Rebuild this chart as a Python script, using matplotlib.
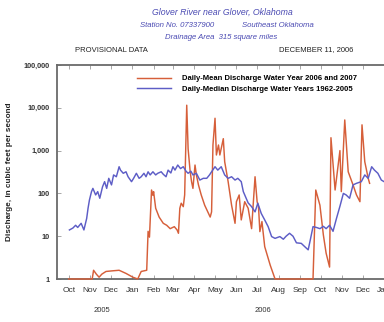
import numpy as np
import matplotlib
matplotlib.use('Agg')
import matplotlib.pyplot as plt

plt.rcParams['font.family'] = ['Liberation Sans', 'DejaVu Sans']

# daily-mean discharge, water years 2006-2007 (cfs)
mean_dates = ['2005-10-01', '2005-11-04', '2005-11-06', '2005-11-10', '2005-11-14', '2005-11-18',
              '2005-11-24', '2005-12-03', '2005-12-13', '2005-12-23', '2006-01-02', '2006-01-09',
              '2006-01-14', '2006-01-22', '2006-01-24', '2006-01-26', '2006-01-29', '2006-01-31',
              '2006-02-01', '2006-02-04', '2006-02-09', '2006-02-15', '2006-02-20', '2006-02-25',
              '2006-03-03', '2006-03-07', '2006-03-09', '2006-03-11', '2006-03-13', '2006-03-16',
              '2006-03-18', '2006-03-21', '2006-03-23', '2006-03-26', '2006-03-28', '2006-03-30',
              '2006-04-02', '2006-04-04', '2006-04-07', '2006-04-11', '2006-04-16', '2006-04-24',
              '2006-04-26', '2006-04-28', '2006-05-01', '2006-05-03', '2006-05-06', '2006-05-08',
              '2006-05-13', '2006-05-15', '2006-05-20', '2006-05-25', '2006-05-30', '2006-06-01',
              '2006-06-05', '2006-06-08', '2006-06-13', '2006-06-18', '2006-06-23', '2006-06-28',
              '2006-07-01', '2006-07-03', '2006-07-05', '2006-07-08', '2006-07-12', '2006-07-20',
              '2006-07-27', '2006-09-20', '2006-09-24', '2006-09-30', '2006-10-05', '2006-10-09',
              '2006-10-14', '2006-10-16', '2006-10-22', '2006-10-29', '2006-10-31', '2006-11-05',
              '2006-11-10', '2006-11-17', '2006-11-22', '2006-11-27', '2006-11-30', '2006-12-04',
              '2006-12-09', '2006-12-11']
mean_cfs = [1, 1, 1.6, 1.3, 1.1, 1.3,
            1.5, 1.55, 1.6, 1.35, 1.1, 1.0,
            1.5, 1.6, 13, 9.5, 120, 90,
            110, 45, 28, 20, 18, 15,
            16.7, 14, 11.7, 45, 59, 49,
            92, 11500, 1100, 320, 188, 131,
            460, 270, 158, 92, 53, 28,
            37, 1350, 5700, 790, 1350, 790,
            1900, 550, 188, 53, 20, 64,
            92, 24, 64, 45, 15, 245,
            64, 49, 12.8, 22, 5.7, 2.1,
            1, 1, 120, 53, 10.7, 4,
            1.9, 2000, 120, 1000, 110, 5200,
            320, 158, 92, 64, 4000, 550,
            225, 172]

# daily-median discharge, water years 1962-2005 (cfs)
median_dates = ['2005-10-02', '2005-10-07', '2005-10-11', '2005-10-14', '2005-10-19', '2005-10-23',
                '2005-10-27', '2005-10-29', '2005-10-31', '2005-11-03', '2005-11-05', '2005-11-09',
                '2005-11-12', '2005-11-15', '2005-11-19', '2005-11-22', '2005-11-25', '2005-11-28',
                '2005-12-02', '2005-12-05', '2005-12-09', '2005-12-13', '2005-12-15', '2005-12-19',
                '2005-12-23', '2005-12-26', '2005-12-31', '2006-01-03', '2006-01-07', '2006-01-11',
                '2006-01-14', '2006-01-18', '2006-01-21', '2006-01-24', '2006-01-27', '2006-01-31',
                '2006-02-04', '2006-02-07', '2006-02-12', '2006-02-15', '2006-02-19', '2006-02-22',
                '2006-02-26', '2006-03-01', '2006-03-04', '2006-03-08', '2006-03-12', '2006-03-16',
                '2006-03-20', '2006-03-23', '2006-03-27', '2006-03-30', '2006-04-04', '2006-04-09',
                '2006-04-14', '2006-04-19', '2006-04-23', '2006-04-26', '2006-05-01', '2006-05-05',
                '2006-05-10', '2006-05-15', '2006-05-20', '2006-05-25', '2006-05-30', '2006-06-03',
                '2006-06-08', '2006-06-11', '2006-06-18', '2006-06-23', '2006-06-28', '2006-07-02',
                '2006-07-07', '2006-07-12', '2006-07-17', '2006-07-22', '2006-07-27', '2006-08-03',
                '2006-08-08', '2006-08-12', '2006-08-17', '2006-08-22', '2006-08-27', '2006-09-03',
                '2006-09-08', '2006-09-13', '2006-09-16', '2006-09-20', '2006-09-25', '2006-09-30',
                '2006-10-05', '2006-10-09', '2006-10-14', '2006-10-19', '2006-10-24', '2006-10-29',
                '2006-11-03', '2006-11-07', '2006-11-12', '2006-11-17', '2006-11-22', '2006-11-29',
                '2006-12-04', '2006-12-09', '2006-12-14', '2006-12-18', '2006-12-23', '2006-12-28',
                '2007-01-01']
median_cfs = [14, 15.5, 18, 16, 20, 14,
              26, 45, 70, 110, 131, 92,
              110, 77, 143, 188, 131, 225,
              158, 270, 245, 420, 350, 295,
              320, 245, 188, 225, 295, 225,
              245, 295, 245, 320, 270, 320,
              270, 295, 320, 280, 245, 350,
              300, 420, 350, 460, 380, 420,
              330, 295, 330, 270, 295, 205,
              225, 225, 270, 320, 420, 350,
              420, 270, 225, 245, 205, 225,
              188, 110, 60, 49, 37, 59,
              34, 24, 16.7, 9.8, 8.9, 9.8,
              8.5, 10, 11.7, 10, 7, 6.8,
              5.7, 4.8, 8.1, 16.7, 16, 15,
              17, 15, 18, 13, 26, 50,
              100, 92, 77, 158, 172, 188,
              270, 225, 420, 350, 295, 205,
              188]

months = ['Oct', 'Nov', 'Dec', 'Jan', 'Feb', 'Mar', 'Apr', 'May', 'Jun', 'Jul', 'Aug', 'Sep',
          'Oct', 'Nov', 'Dec', 'Jan']
month_starts = ['2005-10-01', '2005-11-01', '2005-12-01', '2006-01-01', '2006-02-01', '2006-03-01',
                '2006-04-01', '2006-05-01', '2006-06-01', '2006-07-01', '2006-08-01', '2006-09-01',
                '2006-10-01', '2006-11-01', '2006-12-01', '2007-01-01']
ytick_vals = [1, 10, 100, 1000, 10000, 100000]
ytick_labels = ['1', '10', '100', '1,000', '10,000', '100,000']

red = '#d65f3a'
blue = '#5d5dc6'
spine_col = '#6a6a6a'

W, H = 384, 322
fig = plt.figure(figsize=(W / 100, H / 100), dpi=100)
ax = fig.add_axes([57 / W, 43 / H, 340.2 / W, 214 / H])

ax.plot(np.array(mean_dates, dtype='datetime64[D]'), mean_cfs, color=red, lw=1.05,
        label='Daily-Mean Discharge Water Year 2006 and 2007', zorder=3, clip_on=False)
ax.plot(np.array(median_dates, dtype='datetime64[D]'), median_cfs, color=blue, lw=1.05,
        label='Daily-Median Discharge Water Years 1962-2005', zorder=3)

ax.set_yscale('log')
ax.set_ylim(1, 100000)
ax.set_xlim(np.datetime64('2005-09-14'), np.datetime64('2007-01-20'))
ax.set_yticks(ytick_vals)
ax.set_yticklabels(ytick_labels, fontsize=5.2, fontweight='bold', color='#333333')
ax.yaxis.set_minor_locator(matplotlib.ticker.NullLocator())
ax.set_xticks(np.array(month_starts, dtype='datetime64[D]'))
ax.set_xticklabels(months, fontsize=6, color='#333333')
ax.tick_params(axis='x', direction='in', length=3, width=0.6, color='#999999', pad=6, top=True)
ax.tick_params(axis='y', direction='in', length=3, width=0.6, color='#999999', pad=5)

for s in ['left', 'bottom', 'top']:
    ax.spines[s].set_color(spine_col)
    ax.spines[s].set_linewidth(1.3)
ax.spines['right'].set_visible(False)

ax.set_ylabel('Discharge, in cubic feet per second', fontsize=5.9, fontweight='bold',
              color='#222222', labelpad=8)

ax.legend(loc='upper left', bbox_to_anchor=(137 / W, 1 - 75 / H), bbox_transform=fig.transFigure,
          frameon=False, prop={'weight': 'bold', 'size': 5.5},
          handlelength=4.4, handletextpad=1.5, labelspacing=0.45, borderpad=0, borderaxespad=0)

title_col = '#4b4bb3'
fig.text(222 / W, 1 - 12.5 / H, 'Glover River near Glover, Oklahoma', ha='center', va='center',
         fontsize=6.3, style='italic', color=title_col)
fig.text(177.5 / W, 1 - 25.5 / H, 'Station No. 07337900', ha='center', va='center',
         fontsize=5.6, style='italic', color=title_col)
fig.text(278 / W, 1 - 25.5 / H, 'Southeast Oklahoma', ha='center', va='center',
         fontsize=5.6, style='italic', color=title_col)
fig.text(221 / W, 1 - 37.5 / H, 'Drainage Area  315 square miles', ha='center', va='center',
         fontsize=5.6, style='italic', color=title_col)
fig.text(75 / W, 1 - 50 / H, 'PROVISIONAL DATA', ha='left', va='center', fontsize=5.5, color='#222222')
fig.text(353 / W, 1 - 50 / H, 'DECEMBER 11, 2006', ha='right', va='center', fontsize=5.5, color='#222222')
fig.text(102 / W, 1 - 311 / H, '2005', ha='center', va='center', fontsize=5.5, color='#333333')
fig.text(263 / W, 1 - 311 / H, '2006', ha='center', va='center', fontsize=5.5, color='#333333')

fig.savefig('out.png', dpi=100)
